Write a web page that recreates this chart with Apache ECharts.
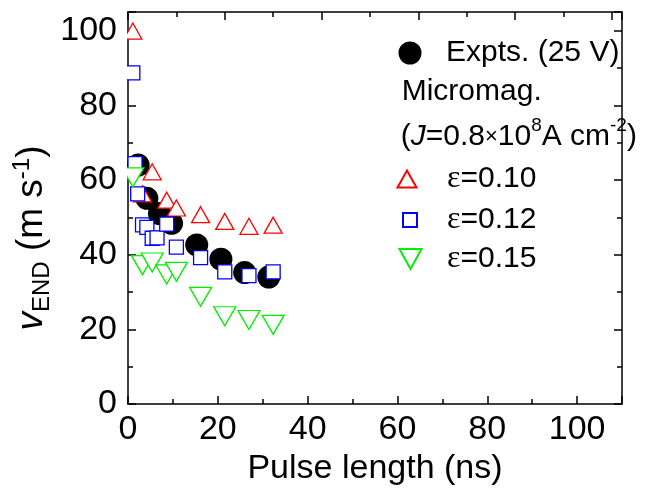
<!DOCTYPE html>
<html><head><meta charset="utf-8">
<script src="https://cdn.jsdelivr.net/npm/echarts@6/dist/echarts.min.js"></script>
<style>html,body{margin:0;padding:0;background:#fff}#c{width:660px;height:489px}</style>
</head><body><div id="c"></div>
<script>
// ---- data ----
const xTickLabels = [0, 20, 40, 60, 80, 100];
const yTickLabels = [0, 20, 40, 60, 80, 100];
const exptX = [2.1, 3.9, 6.5, 9.0, 14.2, 19.2, 24.1, 29.1];
const exptY = [64.0, 55.1, 51.0, 48.4, 42.6, 38.8, 35.2, 34.0];
const eps010X = [1.0, 5, 3, 8, 10, 15, 20, 25, 30];
const eps010Y = [99.9, 62.2, 56.3, 54.6, 52.5, 50.7, 48.9, 47.6, 47.9];
const eps012X = [1.0, 1.45, 2.0, 3.0, 3.9, 5.0, 6.0, 8.0, 10, 15, 20, 25, 30];
const eps012Y = [88.7, 64.4, 56.3, 48.0, 47.3, 44.4, 44.5, 48.2, 42.0, 39.2, 35.4, 34.4, 35.4];
const eps015X = [1.0, 3, 5, 8, 10, 15, 20, 25, 30];
const eps015Y = [60.7, 37.2, 37.9, 34.7, 35.4, 28.7, 23.5, 22.5, 21.2];
const seriesNames = ['Expts. (25 V)', 'ε=0.10', 'ε=0.12', 'ε=0.15'];

const FONT = 'Liberation Sans';
const pair = (xs, ys) => xs.map((x, i) => [x, ys[i]]);
const chart = echarts.init(document.getElementById('c'), null, {renderer: 'canvas'});

const lineStyle = {color: '#000', width: 1.5};
function xAxisBase(pos, max, labels) {
  return {
    type: 'value', position: pos, min: 0, max: max, interval: 20,
    axisLine: {show: true, onZero: false, lineStyle: lineStyle},
    axisTick: {show: true, inside: true, length: 8, lineStyle: lineStyle},
    minorTick: {show: true, splitNumber: 2, length: 5, lineStyle: lineStyle},
    splitLine: {show: false}, minorSplitLine: {show: false},
    axisLabel: labels ? {show: true, fontSize: 34, color: '#000', fontFamily: FONT, margin: 9,
      formatter: v => xTickLabels.indexOf(v) >= 0 ? String(v) : ''} : {show: false}
  };
}
function yAxisBase(pos, labels) {
  return {
    type: 'value', position: pos, min: 0, max: 105, interval: 20,
    axisLine: {show: true, onZero: false, lineStyle: lineStyle},
    axisTick: {show: true, inside: true, length: 8, lineStyle: lineStyle},
    minorTick: {show: true, splitNumber: 2, length: 5, lineStyle: lineStyle},
    splitLine: {show: false}, minorSplitLine: {show: false},
    axisLabel: labels ? {show: true, fontSize: 34, color: '#000', fontFamily: FONT, margin: 11,
      formatter: v => yTickLabels.indexOf(v) >= 0 ? String(v) : ''} : {show: false}
  };
}
const xBottom = xAxisBase('bottom', 110, true);
xBottom.name = 'Pulse length (ns)';
xBottom.nameLocation = 'middle';
xBottom.nameGap = 38;
xBottom.nameTextStyle = {fontSize: 34, color: '#000', fontFamily: FONT};

const legendRich = {
  e: {fontFamily: 'Liberation Serif', fontSize: 32, color: '#000', lineHeight: 32, verticalAlign: 'middle'},
  n: {fontFamily: FONT, fontSize: 30, color: '#000', lineHeight: 32, verticalAlign: 'middle'}
};
function legendFor(name, icon, cx, cy, w, h) {
  const left = cx - w / 2;
  const textStart = 446;
  const pad = textStart - (left + w + 5);
  return {
    data: [{name: name, icon: icon}], left: left, top: cy - 16, padding: 0, itemWidth: w, itemHeight: h,
    symbolKeepAspect: false, selectedMode: false,
    formatter: n => n.charAt(0) === 'ε' ? '{e|ε}{n|' + n.slice(1) + '}' : '{n|' + n + '}',
    textStyle: {fontFamily: FONT, fontSize: 30, color: '#000', padding: [0, 0, 0, pad], rich: legendRich}
  };
}

const option = {
  animation: false,
  backgroundColor: '#fff',
  grid: {left: 128, right: 38, top: 12, bottom: 85, containLabel: false, outerBoundsMode: 'none'},
  xAxis: [xBottom, xAxisBase('top', 102.1, false)],
  yAxis: [yAxisBase('left', true), yAxisBase('right', false)],
  legend: [
    legendFor(seriesNames[0], 'circle', 410, 54, 23, 23),
    legendFor(seriesNames[1], 'triangle', 406, 179, 19, 17),
    legendFor(seriesNames[2], 'rect', 409, 220, 14, 14),
    legendFor(seriesNames[3], 'path://M0,0L22,0L11,20Z', 409.5, 259, 22, 20)
  ],
  graphic: [
    {type: 'rect', z: 10, silent: true, shape: {x: 119.5, y: 12, width: 7.5, height: 392}, style: {fill: '#fff'}},
    {type: 'text', z: 11, x: 32, y: 238, rotation: Math.PI / 2,
      style: {
        text: '{v|v}{sub|END}{n| (m s}{sup|-1}{n|)}', align: 'center', verticalAlign: 'middle',
        rich: {
          v: {fontFamily: FONT, fontStyle: 'italic', fontSize: 37, lineHeight: 44, verticalAlign: 'middle', fill: '#000'},
          n: {fontFamily: FONT, fontSize: 37, lineHeight: 44, verticalAlign: 'middle', fill: '#000'},
          sub: {fontFamily: FONT, fontSize: 24, lineHeight: 10, verticalAlign: 'bottom', fill: '#000'},
          sup: {fontFamily: FONT, fontSize: 24, lineHeight: 20, verticalAlign: 'top', fill: '#000'}
        }
      }},
    {type: 'text', z: 11, x: 401.7, y: 92,
      style: {text: 'Micromag.', font: '30px "Liberation Sans"', fill: '#000', align: 'left', verticalAlign: 'middle'}},
    {type: 'text', z: 11, x: 400.7, y: 137,
      style: {
        text: '{n|(}{i|J}{n|=0.8}{x|×}{n|10}{sup|8}{n|A cm}{sup|-2}{n|)}', align: 'left', verticalAlign: 'middle',
        rich: {
          n: {fontFamily: FONT, fontSize: 30, lineHeight: 42, verticalAlign: 'middle', fill: '#000'},
          i: {fontFamily: FONT, fontStyle: 'italic', fontSize: 30, lineHeight: 42, verticalAlign: 'middle', fill: '#000'},
          x: {fontFamily: FONT, fontSize: 22, lineHeight: 42, verticalAlign: 'middle', fill: '#000'},
          sup: {fontFamily: FONT, fontSize: 19, lineHeight: 19, verticalAlign: 'top', fill: '#000'}
        }
      }}
  ],
  series: [
    {name: seriesNames[0], type: 'scatter', xAxisIndex: 1, yAxisIndex: 0, data: pair(exptX, exptY),
      symbol: 'circle', symbolSize: 23, itemStyle: {color: '#000', borderColor: '#000', borderWidth: 0, opacity: 1}, z: 2},
    {name: seriesNames[1], type: 'scatter', xAxisIndex: 1, yAxisIndex: 0, data: pair(eps010X, eps010Y),
      symbol: 'triangle', symbolSize: [18, 16], itemStyle: {color: '#fff', borderColor: '#ff0000', borderWidth: 1.3, opacity: 1}, z: 3},
    {name: seriesNames[2], type: 'scatter', xAxisIndex: 1, yAxisIndex: 0, data: pair(eps012X, eps012Y),
      symbol: 'rect', symbolSize: 14, itemStyle: {color: '#fff', borderColor: '#0000ff', borderWidth: 1.3, opacity: 1}, z: 4},
    {name: seriesNames[3], type: 'scatter', xAxisIndex: 1, yAxisIndex: 0, data: pair(eps015X, eps015Y),
      symbol: 'triangle', symbolRotate: 180, symbolSize: [22, 19], itemStyle: {color: '#fff', borderColor: '#00ee00', borderWidth: 1.3, opacity: 1}, z: 5}
  ]
};
chart.setOption(option);
</script>
</body></html>
